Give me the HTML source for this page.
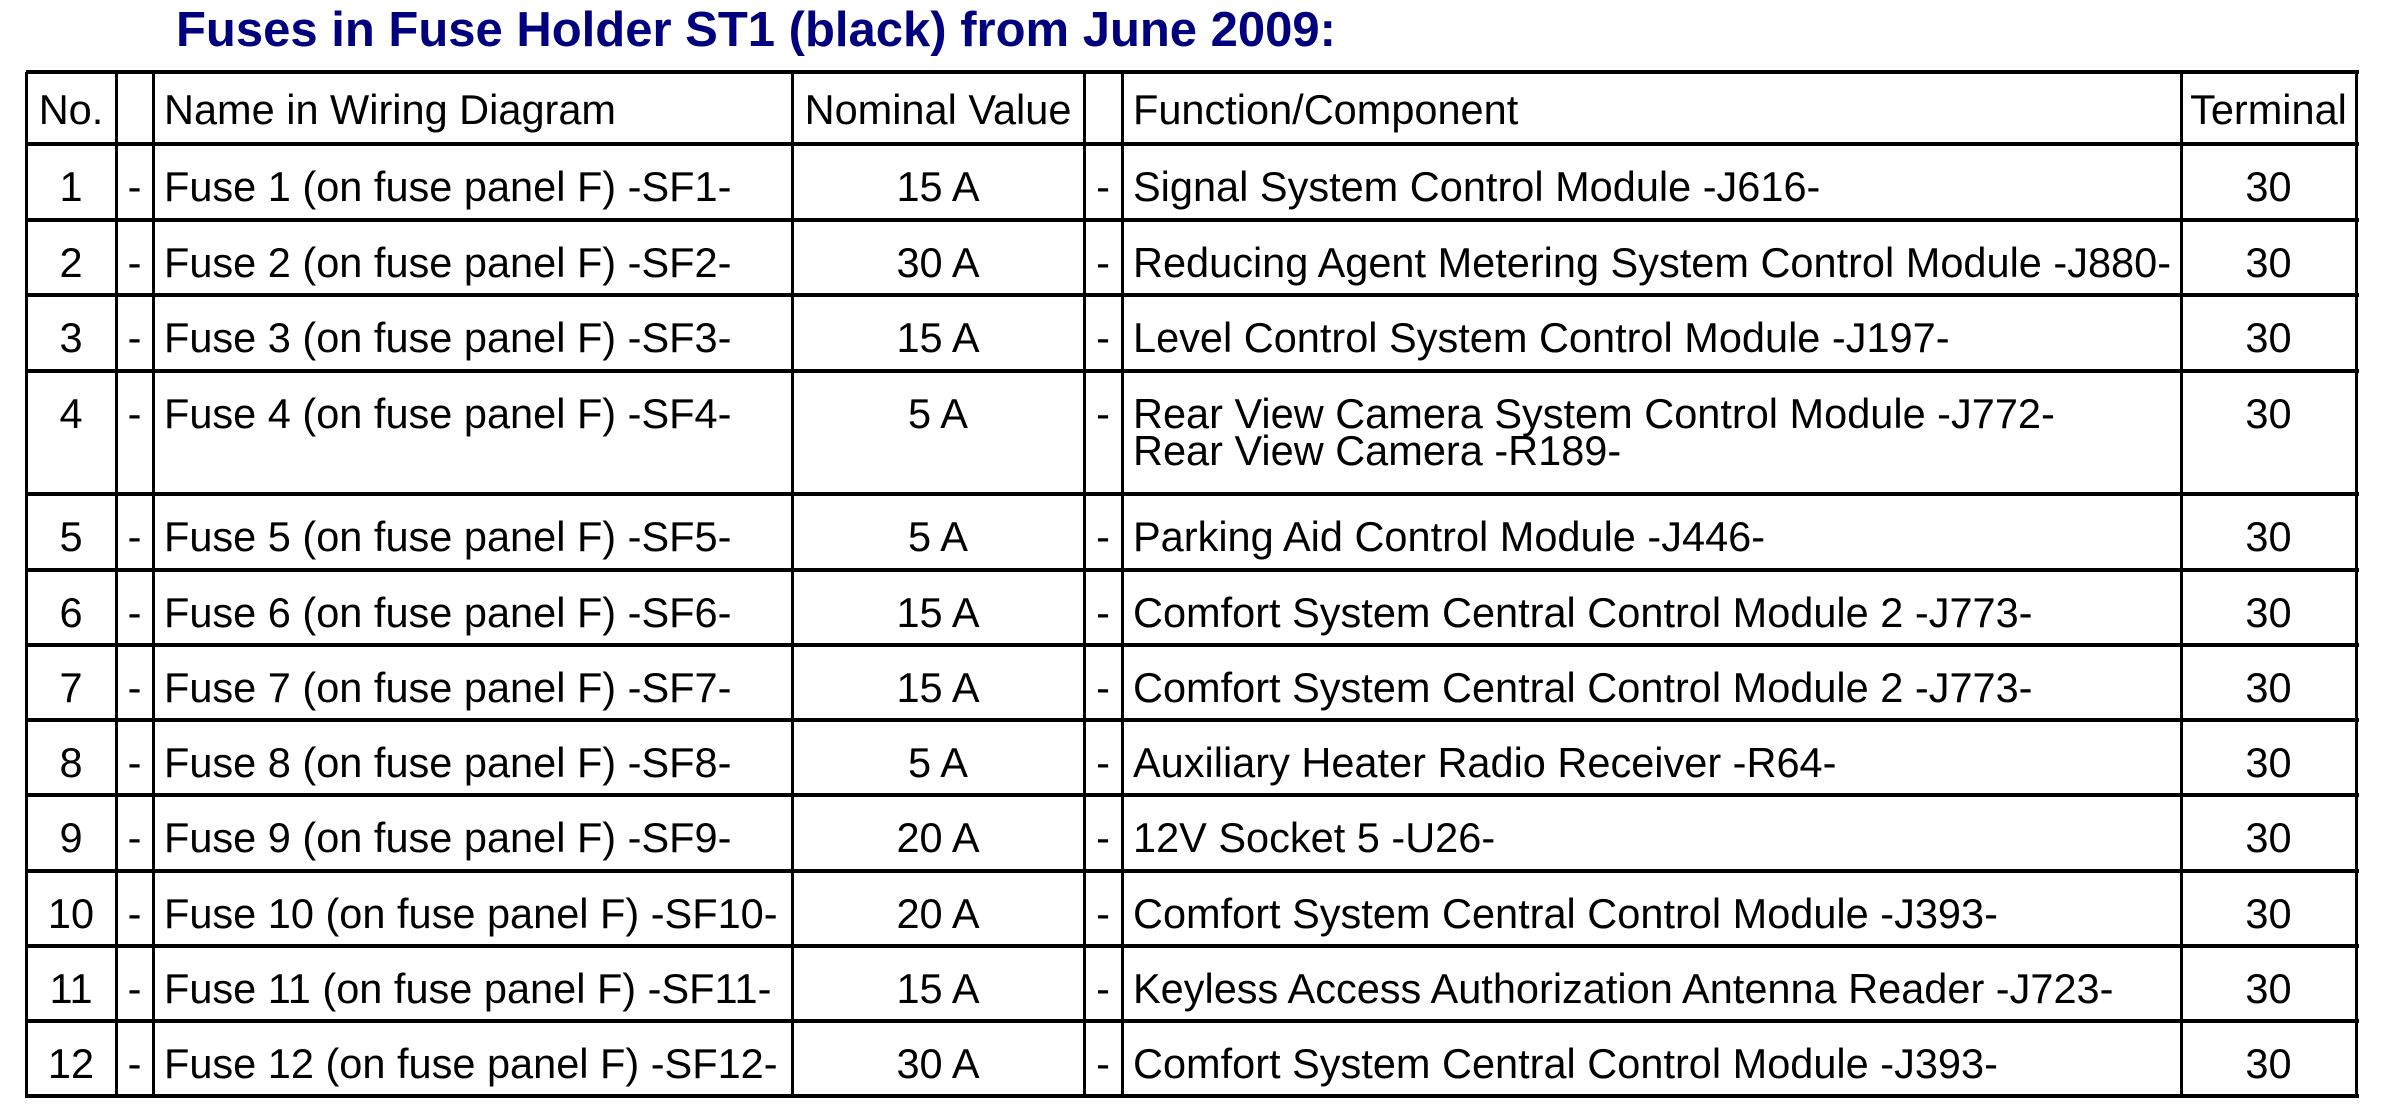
<!DOCTYPE html>
<html><head><meta charset="utf-8"><style>
body{margin:0;width:2400px;height:1119px;background:#fff;position:relative;overflow:hidden;font-family:"Liberation Sans",Arial,sans-serif;}
.t{position:absolute;left:176px;top:2px;font-weight:bold;font-size:49px;color:#00007f;white-space:nowrap;}
.h{position:absolute;background:#000;height:4px;}
.v{position:absolute;background:#000;width:3px;}
.c{position:absolute;font-size:41.5px;line-height:37px;white-space:nowrap;color:#000;}
</style></head><body>
<div class="t">Fuses in Fuse Holder ST1 (black) from June 2009:</div>
<div id="tbl"></div>
<script>
const cols=[26,116,153,792,1084,1122,2181,2356];
const rowsY=[72,144,220,295,371,494,570,645,720,795,871,946,1021,1096];
const header=["No.","","Name in Wiring Diagram","Nominal Value","","Function/Component","Terminal"];
const nums=["1","2","3","4","5","6","7","8","9","10","11","12"];
const values=["15 A","30 A","15 A","5 A","5 A","15 A","15 A","5 A","20 A","20 A","15 A","30 A"];
const funcs=["Signal System Control Module -J616-","Reducing Agent Metering System Control Module -J880-","Level Control System Control Module -J197-","Rear View Camera System Control Module -J772-<br>Rear View Camera -R189-","Parking Aid Control Module -J446-","Comfort System Central Control Module 2 -J773-","Comfort System Central Control Module 2 -J773-","Auxiliary Heater Radio Receiver -R64-","12V Socket 5 -U26-","Comfort System Central Control Module -J393-","Keyless Access Authorization Antenna Reader -J723-","Comfort System Central Control Module -J393-"];
const tbl=document.getElementById('tbl');
const W=cols[cols.length-1]-cols[0];
rowsY.forEach((y,i)=>{const d=document.createElement('div');d.className='h';


d.style.left=cols[0]+'px';d.style.top=(y-2)+'px';d.style.width=(W+3)+'px';tbl.appendChild(d);});
cols.forEach(x=>{const d=document.createElement('div');d.className='v';


d.style.left=(x-1)+'px';d.style.top=rowsY[0]+'px';d.style.height=(rowsY[rowsY.length-1]-rowsY[0]+2)+'px';tbl.appendChild(d);});
const align=['c','c','l','c','c','l','c'];
function cell(r,ci,html,name){const x0=cols[ci],x1=cols[ci+1],y=rowsY[r];const d=document.createElement('div');d.className='c';


d.innerHTML=html;d.style.top=(y+(r==0?19:24))+'px';
if(align[ci]=='l'){d.style.left=(x0+11)+'px';}else{d.style.left=x0+'px';d.style.width=(x1-x0)+'px';d.style.textAlign='center';}
tbl.appendChild(d);}
header.forEach((h,i)=>{if(h)cell(0,i,h,'header-cell');});
nums.forEach((n,i)=>{const r=i+1;
cell(r,0,n,'fuse-number');cell(r,1,'-','dash');cell(r,2,'Fuse '+n+' (on fuse panel F) -SF'+n+'-','fuse-name');
cell(r,3,values[i],'nominal-value');cell(r,4,'-','dash');cell(r,5,funcs[i],'function-component');cell(r,6,'30','terminal');});
</script>
</body></html>
